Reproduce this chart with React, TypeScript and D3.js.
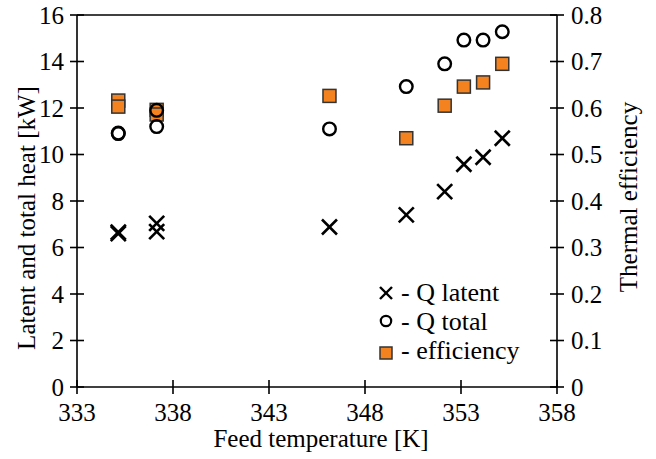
import React from "react";
import * as d3 from "d3";

const temps = [335.15, 335.15, 337.15, 337.15, 346.15, 350.15, 352.15, 353.15, 354.15, 355.15];
const qLatent = [6.6, 6.66, 7.04, 6.68, 6.88, 7.4, 8.4, 9.58, 9.88, 10.7];
const qTotal = [10.9, 10.92, 11.9, 11.2, 11.1, 12.92, 13.9, 14.92, 14.92, 15.28];
const efficiency = [0.616, 0.603, 0.596, 0.586, 0.626, 0.535, 0.605, 0.646, 0.655, 0.695];

const xTicks = [333, 338, 343, 348, 353, 358];
const yLeftTicks = [0, 2, 4, 6, 8, 10, 12, 14, 16];
const yRightTicks = [0, 0.1, 0.2, 0.3, 0.4, 0.5, 0.6, 0.7, 0.8];

const legendItems = ["- Q latent", "- Q total", "- efficiency"];

const W = 656, H = 459;
const L = 77, R = 557, T = 15, B = 387;
const FONT = '"Liberation Serif", "Times New Roman", serif';
const ORANGE = "#f4821f";

export default function App() {
  const x = d3.scaleLinear().domain([333, 358]).range([L, R]);
  const yL = d3.scaleLinear().domain([0, 16]).range([B, T]);
  const yR = d3.scaleLinear().domain([0, 0.8]).range([B, T]);
  const ts: React.CSSProperties = { fontFamily: FONT, fontSize: 25 };
  const ls: React.CSSProperties = { fontFamily: FONT, fontSize: 26 };

  const cross = (cx: number, cy: number, s: number, sw: number, key: string) => (
    <g key={key} stroke="#000" strokeWidth={sw}>
      <line x1={cx - s} y1={cy - s} x2={cx + s} y2={cy + s} />
      <line x1={cx - s} y1={cy + s} x2={cx + s} y2={cy - s} />
    </g>
  );

  return (
    <svg width={W} height={H} style={{ position: "absolute", left: 0, top: 0, fontFamily: FONT }}>
      <rect x={0} y={0} width={W} height={H} fill="#fff" />
      <g stroke="#000" strokeWidth={1.6} fill="none">
        <line x1={L} y1={T} x2={R} y2={T} />
        <line x1={L} y1={B} x2={R} y2={B} />
        <line x1={L} y1={T} x2={L} y2={B} />
        <line x1={R} y1={T} x2={R} y2={B} />
      </g>
      {yLeftTicks.map((t) => (
        <g key={"yl" + t}>
          <line x1={L - 7} x2={L + 7} y1={yL(t)} y2={yL(t)} stroke="#000" strokeWidth={1.6} />
          <text x={L - 13} y={yL(t)} dy="0.34em" textAnchor="end" style={ts}>{t}</text>
        </g>
      ))}
      {yRightTicks.map((t) => (
        <g key={"yr" + t}>
          <line x1={R - 7} x2={R + 7} y1={yR(t)} y2={yR(t)} stroke="#000" strokeWidth={1.6} />
          <text x={R + 14} y={yR(t)} dy="0.34em" textAnchor="start" style={ts}>{+t.toFixed(1)}</text>
        </g>
      ))}
      {xTicks.map((t) => (
        <g key={"x" + t}>
          <line x1={x(t)} x2={x(t)} y1={B - 7} y2={B + 7} stroke="#000" strokeWidth={1.6} />
          <text x={x(t)} y={B + 34} textAnchor="middle" style={ts}>{t}</text>
        </g>
      ))}
      <text x={(L + R) / 2 + 4} y={447} textAnchor="middle" style={ts}>Feed temperature [K]</text>
      <text transform={`translate(35,${(T + B) / 2 + 17}) rotate(-90)`} textAnchor="middle" style={ts}>Latent and total heat [kW]</text>
      <text transform={`translate(637,${(T + B) / 2 - 4}) rotate(-90)`} textAnchor="middle" style={ts}>Thermal efficiency</text>

      {temps.map((t, i) => (
        <rect key={"s" + i} x={x(t) - 6.5} y={yR(efficiency[i]) - 6.5} width={13} height={13}
          fill={ORANGE} stroke="#333" strokeWidth={1.5} />
      ))}
      {temps.map((t, i) => (
        <circle key={"c" + i} cx={x(t)} cy={yL(qTotal[i])} r={6.3} fill="none" stroke="#000" strokeWidth={2.4} />
      ))}
      {temps.map((t, i) => cross(x(t), yL(qLatent[i]), 7.5, 2.6, "x" + i))}

      <g>
        {cross(386, 293, 6, 2.4, "lx")}
        <circle cx={386} cy={321} r={5.2} fill="none" stroke="#000" strokeWidth={2.2} />
        <rect x={380} y={347} width={12} height={12} fill={ORANGE} stroke="#333" strokeWidth={1.5} />
        {legendItems.map((s, i) => (
          <text key={s} x={401} y={292 + i * 29} dy="0.34em" style={ls}>{s}</text>
        ))}
      </g>
    </svg>
  );
}
